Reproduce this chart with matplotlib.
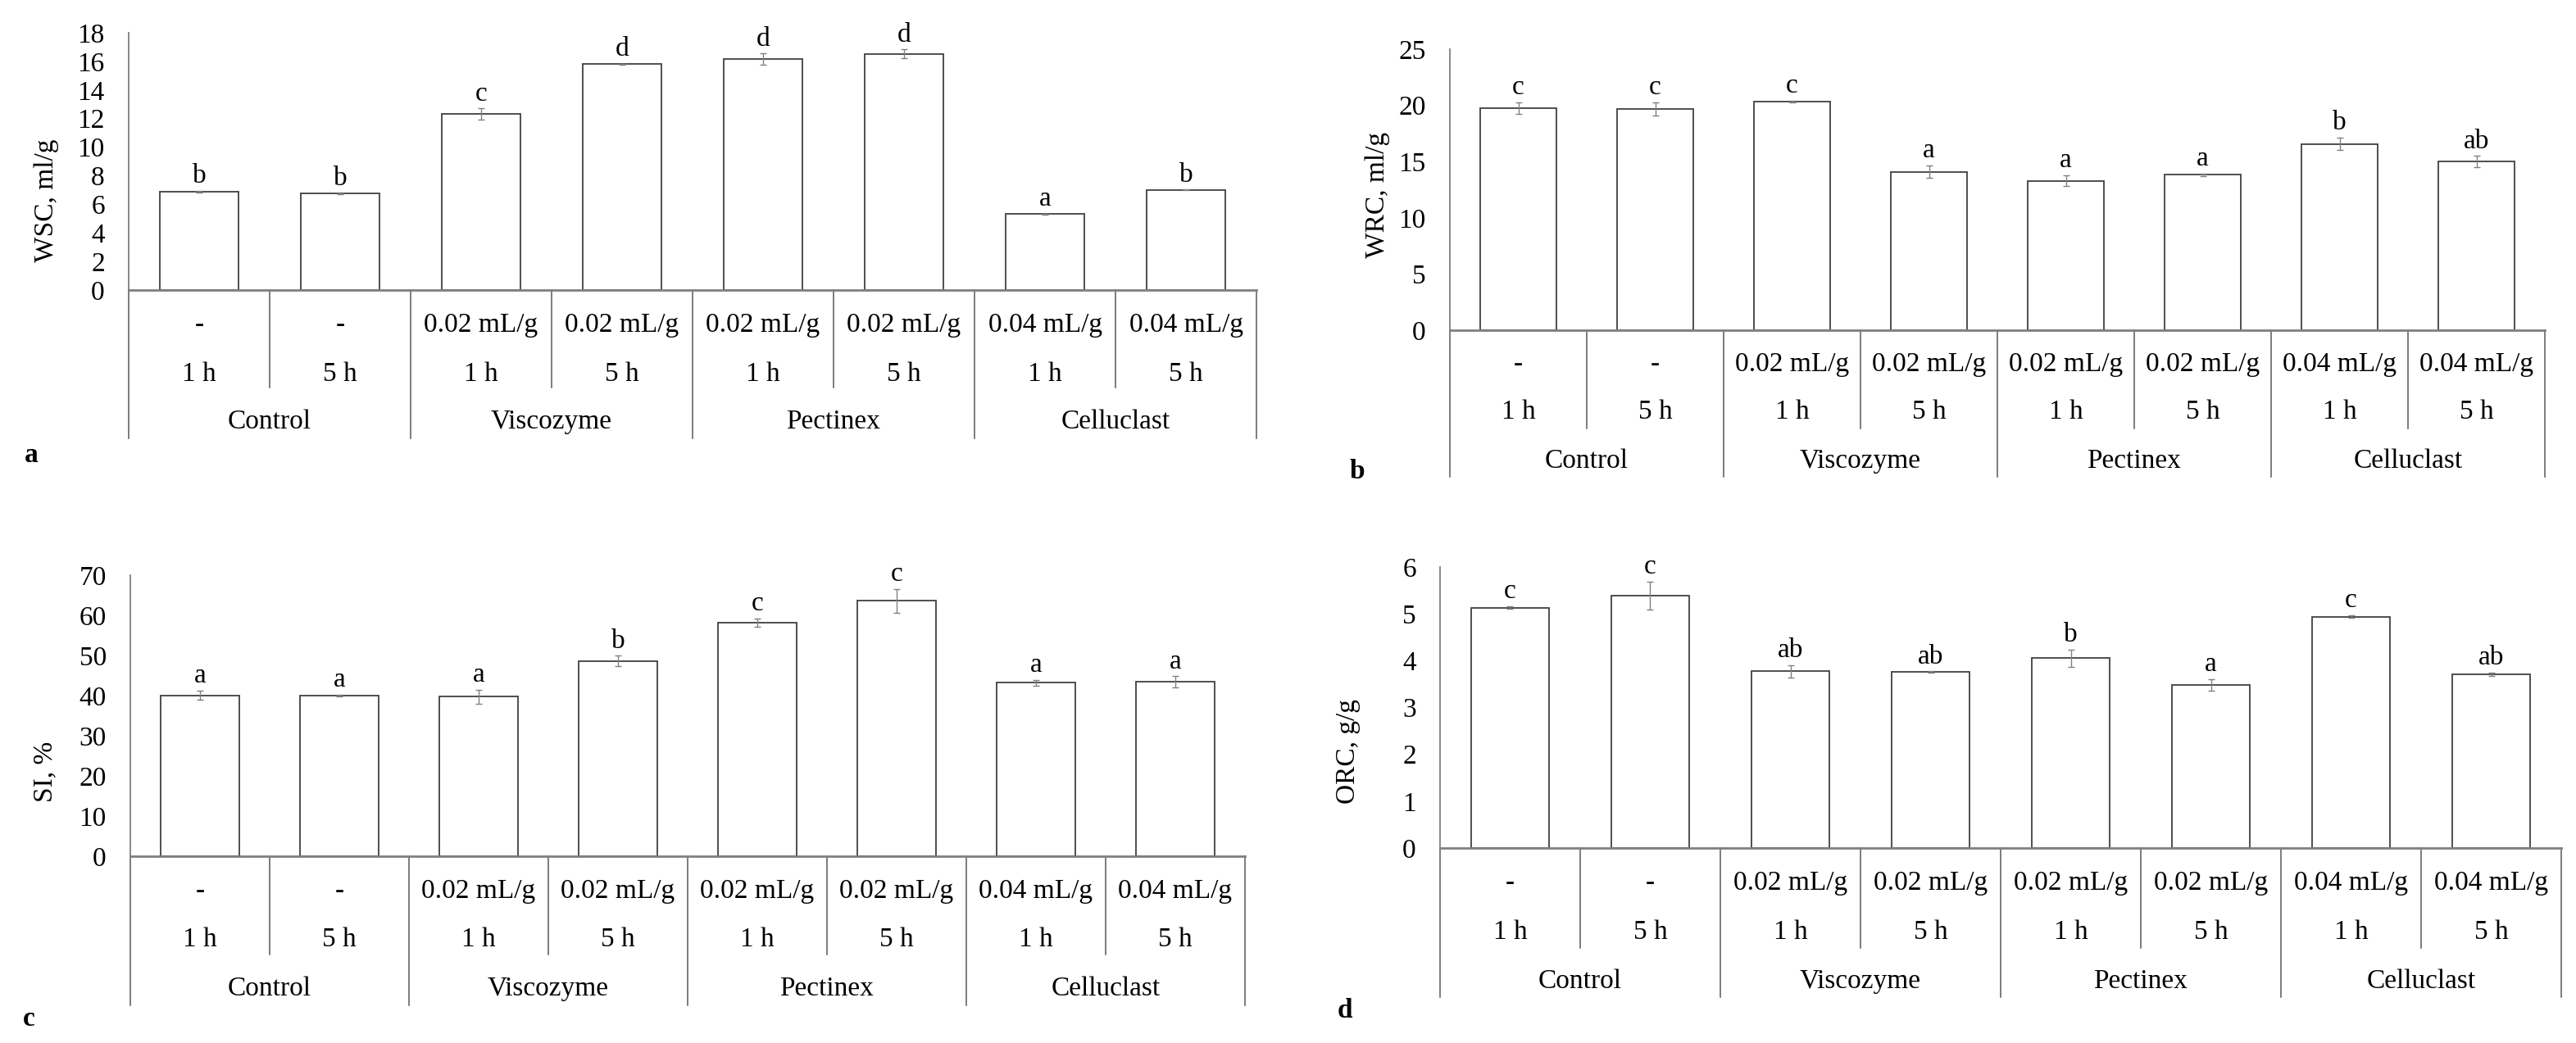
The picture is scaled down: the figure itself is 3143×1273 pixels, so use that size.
import matplotlib
matplotlib.use('Agg')
import matplotlib.pyplot as plt
import numpy as np

plt.rcParams['font.family'] = ['Liberation Serif', 'DejaVu Serif']

# ---------------- data ----------------
doses = ['-', '-', '0.02 mL/g', '0.02 mL/g', '0.02 mL/g', '0.02 mL/g', '0.04 mL/g', '0.04 mL/g']
times = ['1 h', '5 h', '1 h', '5 h', '1 h', '5 h', '1 h', '5 h']
groups = ['Control', 'Viscozyme', 'Pectinex', 'Celluclast']

wsc = [6.90, 6.76, 12.32, 15.80, 16.15, 16.53, 5.31, 7.00]
wsc_err = [0.06, 0.03, 0.38, 0.05, 0.40, 0.30, 0.03, 0.03]
wsc_letters = ['b', 'b', 'c', 'd', 'd', 'd', 'a', 'b']

wrc = [19.76, 19.69, 20.34, 14.10, 13.30, 13.83, 16.58, 15.00]
wrc_err = [0.53, 0.60, 0.10, 0.55, 0.50, 0.10, 0.55, 0.50]
wrc_letters = ['c', 'c', 'c', 'a', 'a', 'a', 'b', 'ab']

si = [40.1, 40.0, 39.7, 48.6, 58.2, 63.6, 43.2, 43.4]
si_err = [1.1, 0.2, 1.8, 1.3, 1.0, 3.0, 0.7, 1.4]
si_letters = ['a', 'a', 'a', 'b', 'c', 'c', 'a', 'a']

orc = [5.13, 5.39, 3.77, 3.76, 4.05, 3.48, 4.94, 3.71]
orc_err = [0.03, 0.30, 0.13, 0.01, 0.19, 0.12, 0.03, 0.04]
orc_letters = ['c', 'c', 'ab', 'ab', 'b', 'a', 'c', 'ab']

# ---------------- layout (pixels) ----------------
W, H = 3143, 1273
fig = plt.figure(figsize=(W / 100, H / 100), dpi=100)

panels = [
    dict(vals=wsc, err=wsc_err, let=wsc_letters, ymax=18, step=2, ylabel='WSC, ml/g',
         left=157, right=1533, top=40, zero=354, offs=(43, 103, 119, 161, 181),
         ylab=(57, 245), plab=('a', 38, 555)),
    dict(vals=wrc, err=wrc_err, let=wrc_letters, ymax=25, step=5, ylabel='WRC, ml/g',
         left=1769, right=3105, top=60, zero=403, offs=(42, 100, 120, 160, 179),
         ylab=(1681, 238), plab=('b', 1656, 575)),
    dict(vals=si, err=si_err, let=si_letters, ymax=70, step=10, ylabel='SI, %',
         left=159, right=1519, top=702, zero=1045, offs=(43, 102, 120, 162, 182),
         ylab=(55, 942), plab=('c', 35, 1243)),
    dict(vals=orc, err=orc_err, let=orc_letters, ymax=6, step=1, ylabel='ORC, g/g',
         left=1757, right=3125, top=692, zero=1035, offs=(43, 103, 122, 163, 182),
         ylab=(1645, 917), plab=('d', 1641, 1233)),
]

FS = 24
line_col = '#595959'
x = np.arange(len(doses))

for p in panels:
    l, r, t, z = p['left'], p['right'], p['top'], p['zero']
    hpx = z - t
    ax = fig.add_axes([l / W, 1 - z / H, (r - l) / W, hpx / H])
    ax.bar(x, p['vals'], width=0.56, color='white', edgecolor='#404040', linewidth=1.3, zorder=2)
    ax.errorbar(x, p['vals'], yerr=p['err'], fmt='none', ecolor='#808080',
                elinewidth=1.0, capsize=3, capthick=1.0, zorder=3)
    for xi, v, e, s in zip(x, p['vals'], p['err'], p['let']):
        ax.annotate(s, (xi, v + e), xytext=(0, 7), textcoords='offset points',
                    ha='center', va='baseline', fontsize=FS)
    ax.set_xlim(-0.5, len(doses) - 0.5)
    ax.set_ylim(0, p['ymax'])
    ax.set_yticks(np.arange(0, p['ymax'] + 0.001, p['step']))
    ax.set_yticklabels([f"{v:g}" for v in np.arange(0, p['ymax'] + 0.001, p['step'])])
    ax.tick_params(axis='y', length=0, pad=21, labelsize=FS)
    ax.set_xticks([])
    for s in ['top', 'right']:
        ax.spines[s].set_visible(False)
    ax.spines['left'].set_color('#7f7f7f')
    ax.spines['left'].set_linewidth(1.3)
    ax.spines['bottom'].set_color('#7f7f7f')
    ax.spines['bottom'].set_linewidth(2.0)
    ax.patch.set_alpha(0)

    tr = ax.get_xaxis_transform()
    o1, o2, oin, og, oout = p['offs']
    fy = lambda px: -px / hpx
    # separators
    for xs in [-0.5, 1.5, 3.5, 5.5, 7.5]:
        ax.plot([xs, xs], [0, fy(oout)], transform=tr, color=line_col, lw=1.1, clip_on=False)
    for xs in [0.5, 2.5, 4.5, 6.5]:
        ax.plot([xs, xs], [0, fy(oin)], transform=tr, color=line_col, lw=1.1, clip_on=False)
    for xi, d, tm in zip(x, doses, times):
        ax.text(xi, fy(o1), d, transform=tr, ha='center', va='center', fontsize=FS)
        ax.text(xi, fy(o2), tm, transform=tr, ha='center', va='center', fontsize=FS)
    for gi, g in enumerate(groups):
        ax.text(2 * gi + 0.5, fy(og), g, transform=tr, ha='center', va='center', fontsize=FS)

    yx, yy = p['ylab']
    fig.text(yx / W, 1 - yy / H, p['ylabel'], rotation=90, ha='center', va='center', fontsize=FS)
    lab, lx, ly = p['plab']
    fig.text(lx / W, 1 - ly / H, lab, ha='center', va='center', fontsize=FS, fontweight='bold')

fig.savefig('out.png', dpi=100, facecolor='white')
